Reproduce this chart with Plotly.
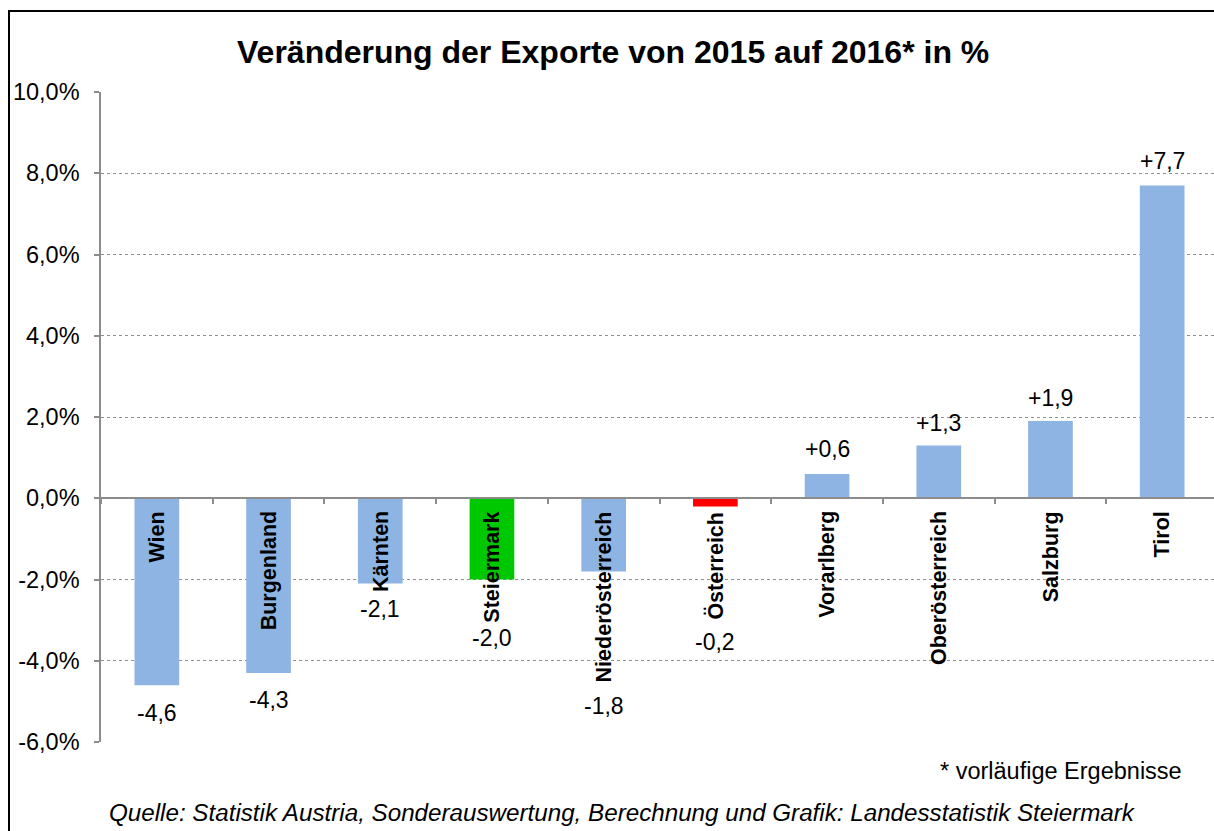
import plotly.graph_objects as go

# ---- data ----
categories = ["Wien", "Burgenland", "Kärnten", "Steiermark", "Niederösterreich",
              "Österreich", "Vorarlberg", "Oberösterreich", "Salzburg", "Tirol"]
values = [-4.6, -4.3, -2.1, -2.0, -1.8, -0.2, 0.6, 1.3, 1.9, 7.7]
value_labels = ["-4,6", "-4,3", "-2,1", "-2,0", "-1,8", "-0,2", "+0,6", "+1,3", "+1,9", "+7,7"]
y_tickvals = [-6, -4, -2, 0, 2, 4, 6, 8, 10]
y_ticktext = ["-6,0%", "-4,0%", "-2,0%", "0,0%", "2,0%", "4,0%", "6,0%", "8,0%", "10,0%"]

title_text = "Veränderung der Exporte von 2015 auf 2016* in %"
footnote_text = "* vorläufige Ergebnisse"
source_text = "Quelle: Statistik Austria, Sonderauswertung, Berechnung und Grafik: Landesstatistik Steiermark"

# ---- styles ----
BLUE = "#8EB4E3"
GREEN = "#00C800"
RED = "#FF0000"
bar_colors = [GREEN if c == "Steiermark" else RED if c == "Österreich" else BLUE for c in categories]
# pixel offsets for the value labels (distance from bar end)
label_shift = [28, 27, 25, 58, 135, 136, 25, 22, 23, 24]

FONT = "Liberation Sans, Arial, sans-serif"
AXIS_GRAY = "#8C8C8C"

W, H = 1214, 831
ML, MR, MT, MB = 101, 0, 92, 89
pw = W - ML - MR
ph = H - MT - MB

fig = go.Figure()
fig.add_trace(go.Bar(
    x=categories, y=values, marker=dict(color=bar_colors, line=dict(width=0)),
    width=0.40, hoverinfo="skip", showlegend=False,
))

annotations = []
for c, v, t, s in zip(categories, values, value_labels, label_shift):
    annotations.append(dict(
        x=c, y=v, xref="x", yref="y", text=t, showarrow=False,
        yanchor="middle", xanchor="center",
        yshift=(s if v > 0 else -s),
        font=dict(family=FONT, size=23, color="#000000"),
    ))
    annotations.append(dict(
        x=c, y=0, xref="x", yref="y", text="<b>" + c + "</b>", showarrow=False,
        textangle=-90, yanchor="top", xanchor="center", yshift=-11,
        font=dict(family=FONT, size=21.5, color="#000000"),
    ))

def px_x(p):
    return (p - ML) / pw

def px_y(p):
    return (H - MB - p) / ph

annotations.append(dict(
    x=px_x(613), y=px_y(52), xref="paper", yref="paper", text="<b>" + title_text + "</b>",
    showarrow=False, xanchor="center", yanchor="middle",
    font=dict(family=FONT, size=32, color="#000000"),
))
annotations.append(dict(
    x=px_x(1184), y=px_y(771), xref="paper", yref="paper", text=footnote_text,
    showarrow=False, xanchor="right", yanchor="middle",
    font=dict(family=FONT, size=23.5, color="#000000"),
))
annotations.append(dict(
    x=px_x(622), y=px_y(812), xref="paper", yref="paper", text="<i>" + source_text + "</i>",
    showarrow=False, xanchor="center", yanchor="middle",
    font=dict(family=FONT, size=24.2, color="#000000"),
))

# outer frame (cropped on the right/bottom in the reference)
shapes = [dict(
    type="rect", xref="paper", yref="paper",
    x0=px_x(9), x1=px_x(W + 20), y0=px_y(H + 20), y1=px_y(11),
    line=dict(color="#000000", width=2), fillcolor="rgba(0,0,0,0)", layer="below",
)]

fig.update_layout(
    width=W, height=H,
    margin=dict(l=ML, r=MR, t=MT, b=MB),
    paper_bgcolor="white", plot_bgcolor="white",
    annotations=annotations, shapes=shapes,
    bargap=0.6,
    font=dict(family=FONT, color="#000000"),
)
fig.update_yaxes(
    range=[-6, 10], tickvals=y_tickvals, ticktext=y_ticktext,
    showgrid=True, gridcolor="#909090", griddash="dot", gridwidth=1,
    zeroline=False, showline=True, linecolor=AXIS_GRAY, linewidth=1.5,
    ticks="outside", ticklen=5, tickcolor=AXIS_GRAY, tickwidth=1.5,
    ticklabelstandoff=10,
    tickfont=dict(family=FONT, size=23.5, color="#000000"),
    fixedrange=True,
)
fig.update_xaxes(
    type="category", range=[-0.5, 9.464],
    anchor="free", position=6 / 16,
    showgrid=False, zeroline=False, showline=True, linecolor=AXIS_GRAY, linewidth=1.5,
    ticks="outside", tickson="boundaries", ticklen=5, tickcolor=AXIS_GRAY, tickwidth=1.5,
    showticklabels=False, fixedrange=True,
)

fig.write_html("out.html", config={"displayModeBar": False},
               post_script="document.body.style.margin='0px';")
